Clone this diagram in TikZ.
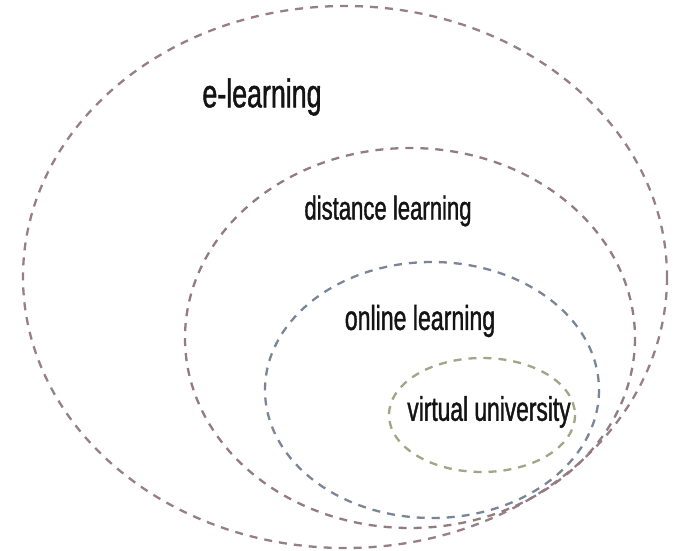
\documentclass[tikz,border=0pt]{standalone}
\usepackage{fontspec}
\newfontfamily\lab[FakeStretch=0.67,FakeBold=1.1]{Liberation Sans}
\definecolor{ringA}{RGB}{150,128,134}
\definecolor{ringB}{RGB}{146,124,130}
\definecolor{ringC}{RGB}{122,134,152}
\definecolor{ringD}{RGB}{160,166,134}
\tikzset{
  ring/.style={line width=2.3pt, dash pattern=on 8pt off 7pt},
  label/.style={font=\lab, text=black!92, inner sep=0pt}
}
\begin{document}
\begin{tikzpicture}[x=1pt,y=-1pt]
\useasboundingbox (0,0) rectangle (681,551);
\fill[white] (0,0) rectangle (681,551);
\draw[ring, ringA] (345,277) ellipse [x radius=322, y radius=271];
\draw[ring, ringB] (410,338) ellipse [x radius=225, y radius=190];
\draw[ring, ringC] (432,390) ellipse [x radius=167, y radius=128];
\draw[ring, ringD] (482,415) ellipse [x radius=93, y radius=57];
\node[label, font=\lab\fontsize{40}{44}\selectfont] (e) at (262,97) {e-learning};
\node[label, font=\lab\fontsize{33}{38}\selectfont] (d) at (388,211) {distance learning};
\node[label, font=\lab\fontsize{34.5}{40}\selectfont] (o) at (420,321) {online learning};
\node[label, font=\lab\fontsize{34}{40}\selectfont] (v) at (489,412) {virtual university};
\end{tikzpicture}
\end{document}
